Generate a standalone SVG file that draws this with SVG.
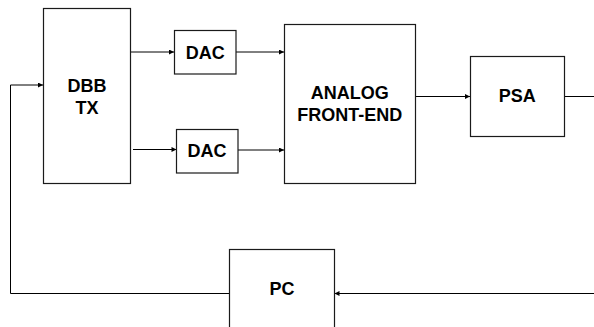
<svg xmlns="http://www.w3.org/2000/svg" width="594" height="327" viewBox="0 0 594 327">
<defs>
<style>
.box{fill:#fff;stroke:#1a1a1a;stroke-width:1.2}
.lbl{font-family:"Liberation Sans",Arial,sans-serif;font-weight:bold;font-size:18px;fill:#000;text-anchor:middle}
.con{fill:none;stroke:#000;stroke-width:1}
</style>
<marker id="ah" viewBox="0 0 10 10" refX="10" refY="5" markerWidth="8" markerHeight="5" markerUnits="userSpaceOnUse" orient="auto">
<path d="M0,0 L10,5 L0,10 z" fill="#000"/>
</marker>
</defs>
<rect width="594" height="327" fill="#fff"/>
<g id="connectors">
<path class="con" d="M130.5,52 H174" marker-end="url(#ah)"/>
<path class="con" d="M133,149.5 H176.5" marker-end="url(#ah)"/>
<path class="con" d="M236,52 H284" marker-end="url(#ah)"/>
<path class="con" d="M238,150 H284" marker-end="url(#ah)"/>
<path class="con" d="M415.5,96.5 H470" marker-end="url(#ah)"/>
<path class="con" d="M564.5,96.5 H594"/>
<path class="con" d="M594,293.5 H334.5" marker-end="url(#ah)"/>
<path class="con" d="M229.5,293.5 H10.5 V85 H43" marker-end="url(#ah)"/>
</g>
<g id="dbbtx">
<rect class="box" x="43.5" y="8.5" width="87" height="175"/>
<text class="lbl" x="87" y="91.5">DBB</text>
<text class="lbl" x="87" y="113.5">TX</text>
</g>
<g id="dac1">
<rect class="box" x="174.5" y="30.5" width="61.5" height="43.5"/>
<text class="lbl" x="205.3" y="59">DAC</text>
</g>
<g id="dac2">
<rect class="box" x="176.5" y="129.5" width="61.5" height="43.5"/>
<text class="lbl" x="207" y="156.5">DAC</text>
</g>
<g id="afe">
<rect class="box" x="284.5" y="24.5" width="131" height="159"/>
<text class="lbl" x="349.8" y="99">ANALOG</text>
<text class="lbl" x="349.8" y="120.5">FRONT-END</text>
</g>
<g id="psa">
<rect class="box" x="470.5" y="56.5" width="94" height="80"/>
<text class="lbl" x="517.3" y="102.3">PSA</text>
</g>
<g id="pc">
<rect class="box" x="229.5" y="249.5" width="105" height="90"/>
<text class="lbl" x="282" y="294.5">PC</text>
</g>
</svg>
